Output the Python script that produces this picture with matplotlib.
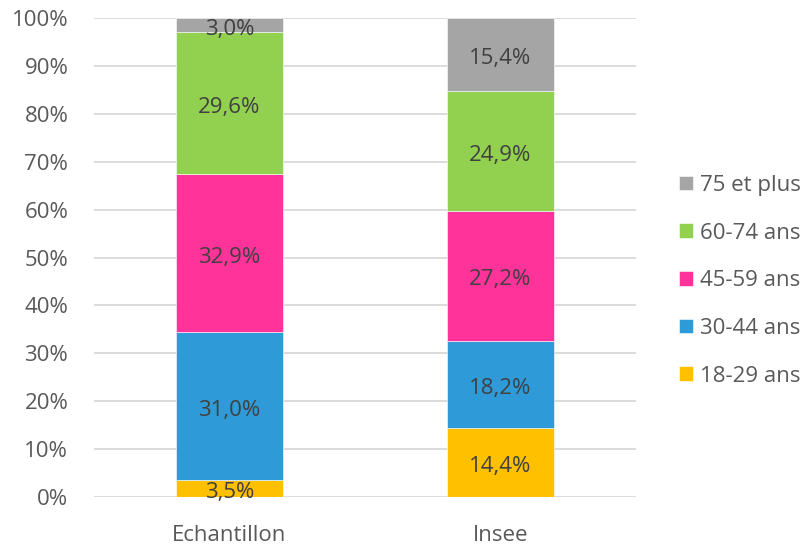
import matplotlib
matplotlib.use("Agg")
import matplotlib.pyplot as plt
import numpy as np

plt.rcParams['font.family'] = ['Open Sans', 'DejaVu Sans']

categories = ["Echantillon", "Insee"]
age_groups = ["18-29 ans", "30-44 ans", "45-59 ans", "60-74 ans", "75 et plus"]
shares = {
    "18-29 ans": [3.5, 14.4],
    "30-44 ans": [31.0, 18.2],
    "45-59 ans": [32.9, 27.2],
    "60-74 ans": [29.6, 24.9],
    "75 et plus": [3.0, 15.4],
}
colors = ["#FFC000", "#2E9BD8", "#FF3399", "#92D050", "#A5A5A5"]

FS = 16

fig = plt.figure(figsize=(8.07, 5.47), dpi=100)
ax = fig.add_axes([94 / 807, 1 - 497 / 547, (636 - 94) / 807, (497 - 18) / 547])

x = np.arange(len(categories))
bottom = np.zeros(len(categories))
handles = []
for grp, col in zip(age_groups, colors):
    vals = np.array(shares[grp])
    bars = ax.bar(x, vals, width=0.394, bottom=bottom, color=col,
                  edgecolor="white", linewidth=0.4, zorder=3)
    handles.append(bars)
    for xi, v, b in zip(x, vals, bottom):
        ax.annotate(f"{v:.1f}%".replace(".", ","), (xi, b + v / 2),
                    xytext=(0, -3), textcoords="offset points",
                    ha="center", va="center", fontsize=FS,
                    color="#404040", zorder=4)
    bottom += vals

ax.set_xlim(-0.5, 1.5)
ax.set_ylim(0, 100)
ax.set_yticks(np.arange(0, 101, 10))
ax.set_yticklabels([f"{t}%" for t in range(0, 101, 10)])
ax.set_xticks(x)
ax.set_xticklabels(categories)
ax.tick_params(axis="both", length=0, labelsize=FS, colors="#595959")
ax.tick_params(axis="y", pad=18.5)
ax.tick_params(axis="x", pad=20)
ax.yaxis.grid(True, color="#D9D9D9", linewidth=1.3, zorder=0)
for s in ax.spines.values():
    s.set_visible(False)

leg = fig.legend(handles[::-1], age_groups[::-1], loc="upper left",
                 bbox_to_anchor=(670 / 807, 1 - 166 / 547), frameon=False,
                 fontsize=FS, handlelength=0.63, handleheight=0.63,
                 handletextpad=0.3, labelspacing=1.2, borderaxespad=0)
for t in leg.get_texts():
    t.set_color("#595959")

fig.savefig("out.png", dpi=100)
